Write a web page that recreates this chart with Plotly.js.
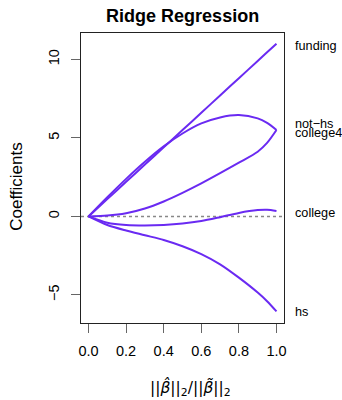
<!DOCTYPE html>
<html>
<head>
<meta charset="utf-8">
<script src="https://cdn.plot.ly/plotly-3.0.1.min.js"></script>
<style>html,body{margin:0;padding:0;background:#fff;}#chart{width:342px;height:400px;}</style>
</head>
<body>
<div id="chart"></div>
<script>
// Shrinkage ratio ||beta_hat||_2 / ||beta_tilde||_2
var ratio = [0, 0.1, 0.2, 0.3, 0.4, 0.5, 0.6, 0.7, 0.8, 0.9, 0.95, 1.0];
// Coefficient paths
var funding  = [0, 1.1, 2.2, 3.3, 4.4, 5.5, 6.6, 7.7, 8.8, 9.9, 10.45, 11.0];
var notHs    = [0, 1.22, 2.39, 3.48, 4.46, 5.28, 5.92, 6.3, 6.45, 6.24, 5.95, 5.5];
var college4 = [0, 0.05, 0.2, 0.5, 0.95, 1.5, 2.1, 2.75, 3.42, 4.12, 4.68, 5.5];
var college  = [0, -0.4, -0.55, -0.58, -0.55, -0.46, -0.3, -0.05, 0.22, 0.4, 0.42, 0.35];
var hs       = [0, -0.55, -0.9, -1.2, -1.5, -1.9, -2.4, -3.05, -3.9, -4.85, -5.4, -6.05];

var seriesNames = ["funding", "not\u2212hs", "college4", "college", "hs"];
var seriesVals  = [funding, notHs, college4, college, hs];
var labelY      = [10.87, 5.86, 5.33, 0.24, -6.07];

var xTicks = [0, 0.2, 0.4, 0.6, 0.8, 1.0];
var xTickText = ["0.0", "0.2", "0.4", "0.6", "0.8", "1.0"];
var yTicks = [-5, 0, 5, 10];
var yTickText = ["\u22125", "0", "5", "10"];

var lineColor = "#6a2af2";
var font = "Liberation Sans, Arial, Helvetica, sans-serif";

var traces = seriesVals.map(function (v, i) {
  return {
    x: ratio, y: v, type: "scatter", mode: "lines", name: seriesNames[i],
    line: {color: lineColor, width: 2, shape: "spline", smoothing: 0.8},
    hoverinfo: "skip"
  };
});

var annotations = seriesNames.map(function (n, i) {
  return {
    text: n, xref: "paper", yref: "y", x: 1.044, y: labelY[i],
    xanchor: "left", yanchor: "middle", showarrow: false,
    font: {family: font, size: 12.7, color: "#000"}
  };
});
annotations.push({
  text: "Coefficients", xref: "paper", yref: "paper", x: -0.315, y: 0.47,
  xanchor: "center", yanchor: "middle", textangle: -90, showarrow: false,
  font: {family: font, size: 17, color: "#000"}
});
annotations.push({
  text: "||<i>\u03B2\u0302</i>||<sub>2</sub>/||<i>\u03B2\u0303</i>||<sub>2</sub>",
  xref: "paper", yref: "paper", x: 0.54, y: -0.225,
  xanchor: "center", yanchor: "middle", showarrow: false,
  font: {family: "DejaVu Sans, sans-serif", size: 15.5, color: "#000"}
});

var layout = {
  width: 342, height: 400,
  margin: {l: 81, r: 58, t: 33, b: 77, pad: 0},
  paper_bgcolor: "#fff", plot_bgcolor: "#fff",
  showlegend: false,
  title: {text: "<b>Ridge Regression</b>", x: 0.534, xanchor: "center", y: 0.96, yanchor: "middle",
          font: {family: font, size: 18, color: "#000"}},
  xaxis: {
    range: [-0.04, 1.04], tickvals: xTicks, ticktext: xTickText,
    showgrid: false, zeroline: false, showline: true, mirror: true,
    linecolor: "#222", linewidth: 1,
    ticks: "outside", ticklen: 9, tickcolor: "#666", tickwidth: 1,
    tickfont: {family: font, size: 14.5, color: "#000"}, ticklabelstandoff: 6
  },
  yaxis: {
    range: [-6.79, 11.68], tickvals: yTicks, ticktext: yTickText,
    showgrid: false, zeroline: false, showline: true, mirror: true,
    linecolor: "#222", linewidth: 1,
    ticks: "outside", ticklen: 9, tickcolor: "#666", tickwidth: 1, tickangle: -90,
    tickfont: {family: font, size: 14.5, color: "#000"}, ticklabelstandoff: 6
  },
  shapes: [{
    type: "line", xref: "paper", yref: "y", x0: 0, x1: 1, y0: 0, y1: 0,
    line: {color: "#888", width: 1.5, dash: "3px,3px"}, layer: "below"
  }],
  annotations: annotations
};

Plotly.newPlot("chart", traces, layout, {staticPlot: true, displayModeBar: false});
</script>
</body>
</html>
